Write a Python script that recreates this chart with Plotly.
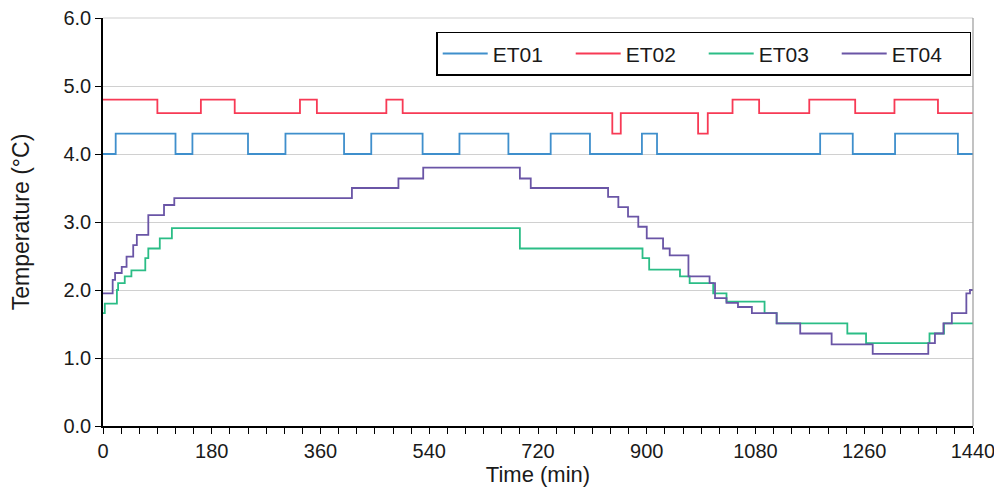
import plotly.graph_objects as go

# ---- data (time in minutes, temperature in °C), step series ----
et01_t = [0, 21, 120, 148, 240, 302, 399, 444, 529, 590, 671, 741, 806, 892, 917, 1187, 1241, 1311, 1415, 1440]
et01_v = [4.0, 4.3, 4.0, 4.3, 4.0, 4.3, 4.0, 4.3, 4.0, 4.3, 4.0, 4.3, 4.0, 4.3, 4.0, 4.3, 4.0, 4.3, 4.0, 4.0]

et02_t = [0, 90, 162, 218, 326, 354, 469, 496, 843, 857, 985, 1001, 1042, 1086, 1169, 1245, 1310, 1382, 1440]
et02_v = [4.8, 4.6, 4.8, 4.6, 4.8, 4.6, 4.8, 4.6, 4.3, 4.6, 4.3, 4.6, 4.8, 4.6, 4.8, 4.6, 4.8, 4.6, 4.6]

et03_t = [0, 3, 23, 25, 36, 47, 70, 75, 94, 114, 690, 893, 904, 955, 971, 1010, 1032, 1095, 1115, 1232, 1263, 1368, 1392, 1440]
et03_v = [1.66, 1.80, 2.00, 2.10, 2.20, 2.29, 2.47, 2.61, 2.76, 2.91, 2.61, 2.47, 2.30, 2.20, 2.10, 1.95, 1.83, 1.66, 1.51, 1.36, 1.22, 1.36, 1.51, 1.51]

et04_t = [0, 16, 20, 31, 39, 50, 56, 75, 101, 118, 412, 489, 530, 690, 708, 836, 853, 869, 886, 900, 927, 938, 969,
          1004, 1013, 1032, 1051, 1074, 1115, 1154, 1206, 1274, 1366, 1377, 1391, 1405, 1429, 1435, 1440]
et04_v = [1.95, 2.15, 2.25, 2.34, 2.49, 2.66, 2.81, 3.10, 3.25, 3.35, 3.50, 3.64, 3.80, 3.64, 3.50, 3.37, 3.22, 3.08, 2.93, 2.76, 2.61, 2.51, 2.20,
          2.10, 1.88, 1.81, 1.75, 1.66, 1.51, 1.36, 1.20, 1.06, 1.22, 1.36, 1.51, 1.66, 1.95, 2.00, 2.00]

series_names = ["ET01", "ET02", "ET03", "ET04"]
series_t = [et01_t, et02_t, et03_t, et04_t]
series_v = [et01_v, et02_v, et03_v, et04_v]
colors = ["#3f8fcc", "#f73a55", "#2bbd86", "#6a55a6"]

x_tickvals = [0, 180, 360, 540, 720, 900, 1080, 1260, 1440]
y_tickvals = [0, 1, 2, 3, 4, 5, 6]

FONT = "Liberation Sans, Arial, sans-serif"
FS = 20

fig = go.Figure()
for name, t, v, c in zip(series_names, series_t, series_v, colors):
    fig.add_trace(go.Scatter(x=t, y=v, name=name, mode="lines",
                             line=dict(color=c, width=1.8, shape="hv")))

fig.update_layout(
    width=1002, height=495,
    margin=dict(l=95, r=37, t=10, b=77),
    paper_bgcolor="white", plot_bgcolor="white",
    font=dict(family=FONT, size=FS, color="#1a1a1a"),
    legend=dict(orientation="h", x=0.383, y=0.966, xanchor="left", yanchor="top",
                bordercolor="black", borderwidth=1.5, bgcolor="white",
                itemwidth=45, entrywidth=73, entrywidthmode="pixels",
                font=dict(family=FONT, size=21, color="#1a1a1a"),
                tracegroupgap=0),
    showlegend=True,
    yaxis2=dict(overlaying="y", side="left", anchor="x", range=[0, 6], tickvals=y_tickvals,
                showticklabels=False, ticks="inside", ticklen=5, tickcolor="black", tickwidth=1.2,
                showgrid=False, showline=False, zeroline=False, automargin=False),
)
fig.update_xaxes(
    range=[0, 1440], tickvals=x_tickvals, ticktext=[str(v) for v in x_tickvals],
    showline=True, linecolor="black", linewidth=1.5,
    ticks="outside", ticklen=6, tickcolor="black", tickwidth=1.2,
    minor=dict(dtick=30, tick0=0, ticks="outside", ticklen=6, tickcolor="black", tickwidth=1.2),
    showgrid=False, zeroline=False, automargin=False, ticklabeloverflow="allow",
    title=dict(text="Time (min)", standoff=6, font=dict(family=FONT, size=22)),
    tickfont=dict(family=FONT, size=FS),
)
fig.layout.yaxis.update(
    range=[0, 6], tickvals=y_tickvals, ticktext=["%.1f" % v for v in y_tickvals],
    showline=True, linecolor="black", linewidth=1.5,
    ticks="outside", ticklen=6, tickcolor="black", tickwidth=1.2,
    showgrid=True, gridcolor="#d0d0d0", gridwidth=1.2, zeroline=False, automargin=False,
    ticklabeloverflow="allow",
    title=dict(text="Temperature (°C)", standoff=30, font=dict(family=FONT, size=23)),
    tickfont=dict(family=FONT, size=FS),
)
# right frame edge and top grid line
fig.add_shape(type="line", xref="paper", yref="paper", x0=1, x1=1, y0=0, y1=1,
              line=dict(color="#9a9a9a", width=1.2))
fig.add_shape(type="line", xref="paper", yref="paper", x0=0, x1=1, y0=1, y1=1,
              line=dict(color="#d0d0d0", width=1.2), layer="below")

fig.write_html("out.html")
